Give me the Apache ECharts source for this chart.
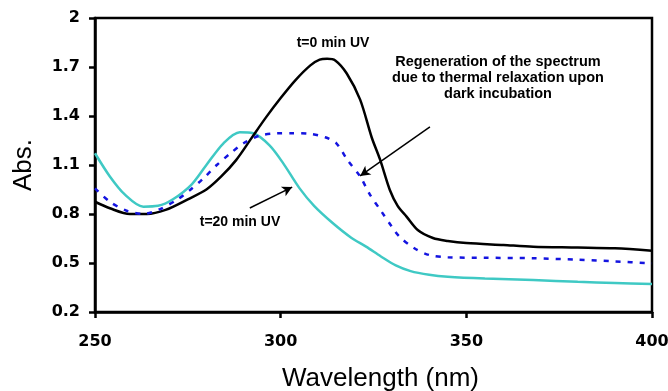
<!DOCTYPE html>
<html><head><meta charset="utf-8">
<script src="https://cdn.jsdelivr.net/npm/echarts@6/dist/echarts.min.js"></script>
<style>html,body{margin:0;padding:0;background:#fff}#c{width:668px;height:391px}</style>
</head><body><div id="c"></div>
<script>
const t0Wl   = [250,254,259.4,264,269,275,280,284,288,292,296,300,304,308,310.5,312.5,314.7,317.8,321.4,324.5,326.8,329.4,331.5,333.9,337,341,345,350,360,368,380,390,400];
const t0Abs  = [0.875,0.835,0.80,0.80,0.825,0.89,0.95,1.03,1.13,1.26,1.39,1.51,1.62,1.71,1.745,1.75,1.74,1.66,1.50,1.27,1.131,0.947,0.85,0.784,0.70,0.653,0.635,0.622,0.61,0.60,0.595,0.59,0.575];
const t20Wl  = [250,254,258,263,267,271,276,280,284.6,289,292.6,297,300.7,305,309,314,319,323,327,331,335,340,345,355,368,380,390,400];
const t20Abs = [1.172,1.03,0.92,0.845,0.85,0.89,0.98,1.10,1.233,1.30,1.294,1.22,1.11,0.96,0.85,0.745,0.655,0.60,0.54,0.485,0.45,0.428,0.416,0.405,0.396,0.385,0.378,0.371];
const darkWl  = [250,254,258.5,263,267.5,272,275.6,279.2,282.8,286.4,290,294.4,299,303,308,312,315,318,321.4,324,327,330,332,336,340,345,355,368,380,390,400];
const darkAbs = [0.957,0.875,0.82,0.80,0.83,0.886,0.947,1.018,1.10,1.17,1.233,1.28,1.294,1.295,1.29,1.27,1.233,1.13,1.03,0.92,0.82,0.72,0.661,0.59,0.549,0.535,0.532,0.529,0.52,0.51,0.498];
const xTicks = [250,300,350,400];
const yTicks = [0.2,0.5,0.8,1.1,1.4,1.7,2];
const arrow1 = [[340.2,1.333],[321.4,1.033]];
const arrow2 = [[291.7,0.837],[303.1,0.965]];

const zip = (a,b)=>a.map((v,i)=>[v,b[i]]);
const FONT = '"Liberation Sans", Arial, sans-serif';
const TICKFONT = '"DejaVu Sans", sans-serif';
const chart = echarts.init(document.getElementById('c'));
chart.setOption({
  animation:false,
  backgroundColor:'#fff',
  grid:{left:95,right:16,top:18,bottom:79,containLabel:false,outerBoundsMode:'none',
    show:true,borderColor:'#000',borderWidth:2.5,backgroundColor:'transparent'},
  xAxis:{type:'value',min:xTicks[0],max:xTicks[xTicks.length-1],interval:50,
    name:'Wavelength (nm)',nameLocation:'middle',nameGap:54,
    nameTextStyle:{fontFamily:FONT,fontSize:26,color:'#000',padding:[0,0,0,14]},
    axisLine:{lineStyle:{color:'#000',width:2.5}},
    axisTick:{show:true,inside:false,length:6,lineStyle:{color:'#000',width:2.5}},
    axisLabel:{fontFamily:TICKFONT,fontSize:16,fontWeight:'bold',color:'#000',margin:22,hideOverlap:false},
    splitLine:{show:false}},
  yAxis:{type:'value',min:yTicks[0],max:yTicks[yTicks.length-1],interval:0.3,
    name:'Abs.',nameLocation:'middle',nameGap:58,nameRotate:90,
    nameTextStyle:{fontFamily:FONT,fontSize:26,color:'#000'},
    axisLine:{lineStyle:{color:'#000',width:2.5}},
    axisTick:{show:true,inside:false,length:6,lineStyle:{color:'#000',width:2.5}},
    axisLabel:{fontFamily:TICKFONT,fontSize:16,fontWeight:'bold',color:'#000',margin:15,
      formatter:v=>String(Math.round(v*10)/10)},
    splitLine:{show:false}},
  series:[
    {type:'line',data:zip(t0Wl,t0Abs),smooth:0.3,showSymbol:false,
      lineStyle:{color:'#000',width:2.5},z:3,
      markLine:{silent:true,symbolSize:[8,10],
        lineStyle:{color:'#000',width:1.5,type:'solid'},label:{show:false},
        data:[
          [{coord:arrow1[0],symbol:'none'},{coord:arrow1[1],symbol:'arrow'}],
          [{coord:arrow2[0],symbol:'none'},{coord:arrow2[1],symbol:'arrow'}]
        ]}},
    {type:'line',data:zip(t20Wl,t20Abs),smooth:0.3,showSymbol:false,
      lineStyle:{color:'#3fc9c4',width:2.5},z:2},
    {type:'line',data:zip(darkWl,darkAbs),smooth:0.3,showSymbol:false,
      lineStyle:{color:'#1414e0',width:2.5,type:[5,7]},z:4}
  ],
  graphic:[
    {type:'text',x:333,y:43,style:{text:'t=0 min UV',font:'bold 14px '+FONT,fill:'#000',align:'center',verticalAlign:'middle'}},
    {type:'text',x:240,y:222,style:{text:'t=20 min UV',font:'bold 14px '+FONT,fill:'#000',align:'center',verticalAlign:'middle'}},
    {type:'text',x:498,y:54,style:{text:'Regeneration of the spectrum\ndue to thermal relaxation upon\ndark incubation',
      font:'bold 14.5px '+FONT,fill:'#000',align:'center',lineHeight:16}}
  ]
});
</script></body></html>
